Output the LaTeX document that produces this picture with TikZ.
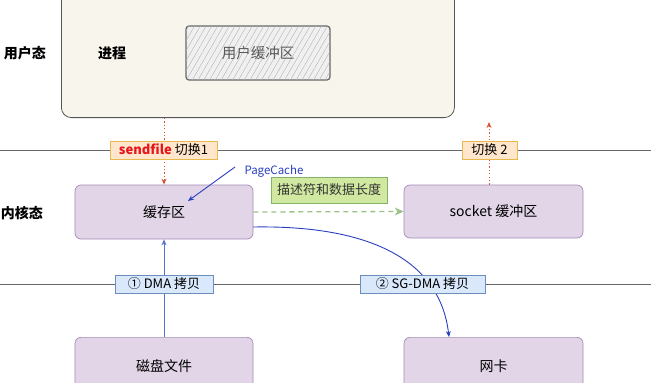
\documentclass[tikz,border=0pt]{standalone}
\usepackage{fontspec}
\setmainfont{Noto Sans CJK SC}
\usetikzlibrary{arrows.meta,patterns.meta,calc}
\definecolor{procfill}{HTML}{F8F6EC}
\definecolor{procdraw}{HTML}{555555}
\definecolor{pfill}{HTML}{E1D5E7}
\definecolor{pdraw}{HTML}{A68DB8}
\definecolor{ofill}{HTML}{FFE6CC}
\definecolor{odraw}{HTML}{E8B84A}
\definecolor{bfill}{HTML}{DAE8FC}
\definecolor{bdraw}{HTML}{6C8EBF}
\definecolor{gfill}{HTML}{D0E8A0}
\definecolor{gdraw}{HTML}{82B366}
\definecolor{redarr}{HTML}{D9532E}
\definecolor{bluearr}{HTML}{2A3FBF}
\definecolor{sfred}{HTML}{E8161C}
\definecolor{linegray}{HTML}{666666}
\tikzset{
  procbox/.style={draw=procdraw, fill=procfill, rounded corners=10pt, line width=0.8pt},
  bufbox/.style={draw=gray!80!black, line width=1.2pt, rounded corners=3pt, fill=gray!12,
    postaction={pattern={Lines[angle=60,distance=5pt,line width=0.4pt]}, pattern color=gray!60},
    minimum width=144pt, minimum height=54pt},
  pbox/.style={draw=pdraw, fill=pfill, rounded corners=6pt, line width=0.7pt,
    font=\fontsize{14}{16}\selectfont},
  olabel/.style={draw=odraw, fill=ofill, line width=0.8pt, inner sep=1pt, minimum height=18pt,
    font=\fontsize{13}{15}\selectfont},
  blabel/.style={draw=bdraw, fill=bfill, line width=0.7pt, inner sep=1pt, minimum height=18pt,
    font=\fontsize{13}{15}\selectfont},
  glabel/.style={draw=gdraw, fill=gfill, line width=0.7pt, inner sep=1pt,
    font=\fontsize{13}{15}\selectfont, text=black!80},
  sidelabel/.style={font=\bfseries\fontsize{14}{16}\selectfont},
  sepline/.style={draw=linegray, line width=0.9pt},
  redarrow/.style={draw=redarr, dash pattern=on 1.2pt off 2.2pt, line width=1pt, -{Stealth[length=6pt,width=5pt]}},
  bluearrow/.style={draw=bluearr, line width=0.9pt, -{Stealth[length=6pt,width=5pt]}},
  dmaarrow/.style={draw=bdraw!80!blue, line width=1pt, -{Stealth[length=6pt,width=5pt,fill=bluearr]}},
  greenarrow/.style={draw=gdraw!80!white, dash pattern=on 5pt off 4pt, line width=1.3pt, -{Stealth[length=9pt,width=8pt]}},
}
\begin{document}
\begin{tikzpicture}[x=1pt,y=-1pt]
\useasboundingbox (0,0) rectangle (651,383);
\clip (0,0) rectangle (651,383);
\fill[white] (0,0) rectangle (651,383);

% separator lines
\coordinate (l1a) at (0,150);
\coordinate (l1b) at (651,150);
\coordinate (l2a) at (0,284);
\coordinate (l2b) at (651,284);
\draw[sepline] (l1a) -- (l1b);
\draw[sepline] (l2a) -- (l2b);

% process box
\node[procbox, minimum width=393pt, minimum height=160pt, anchor=south west] (proc) at (61,118) {};
\node[bufbox] (ubuf) at (258,53) {\fontsize{14.5}{16}\selectfont\color{black!65}用户缓冲区};

% side labels
\node[sidelabel] (user) at (25,53) {用户态};
\node[sidelabel] (kern) at (22,213) {内核态};
\node[sidelabel] (procl) at (112,53) {进程};

% kernel boxes
\node[pbox, minimum width=178pt, minimum height=54pt] (cache) at (164,212) {缓存区};
\node[pbox, minimum width=179pt, minimum height=53pt] (sock) at (493.5,211.5) {socket 缓冲区};
\node[pbox, minimum width=178pt, minimum height=60pt, anchor=north] (disk) at (164,337) {};
\node[pbox, minimum width=179pt, minimum height=60pt, anchor=north] (nic) at (493.5,337) {};
\node (disktxt) at (164,366) {\fontsize{14}{16}\selectfont 磁盘文件};
\node (nictxt) at (493.5,366) {\fontsize{14}{16}\selectfont 网卡};

% coordinates for arrows
\coordinate (sw2x) at (489,150);
\coordinate (sgstart) at (253,227);
\coordinate (sgend) at (449,337);
\coordinate (pcstart) at (235,167);
\coordinate (pcend) at (188,201);

% arrows
\draw[redarrow] (proc.south -| cache.north) -- (cache.north);
\draw[redarrow, shorten >=4pt] (sock.north -| sw2x) -- (proc.south -| sw2x);
\draw[greenarrow] (cache.east) -- (sock.west);
\draw[dmaarrow] (disk.north) -- (cache.south);
\draw[bluearrow] (sgstart) .. controls (370,225) and (440,260) .. (sgend);
\draw[bluearrow] (pcstart) -- (pcend);

% labels
\node[olabel, minimum width=107pt] (sf) at (163.5,150) {\textcolor{sfred}{\textbf{sendfile}} 切换1};
\node[olabel, minimum width=55pt] (sw2) at (489.5,150) {切换 2};
\node[blabel, minimum width=98pt] (dma) at (164,284) {① DMA 拷贝};
\node[blabel, minimum width=125pt] (sg) at (422.5,284) {② SG-DMA 拷贝};
\node[glabel, minimum width=116pt, minimum height=26pt] (desc) at (329,190) {描述符和数据长度};
\node[text=bluearr, font=\fontsize{11.5}{13}\selectfont, anchor=west] (pc) at (241,171) {PageCache};
\end{tikzpicture}
\end{document}
